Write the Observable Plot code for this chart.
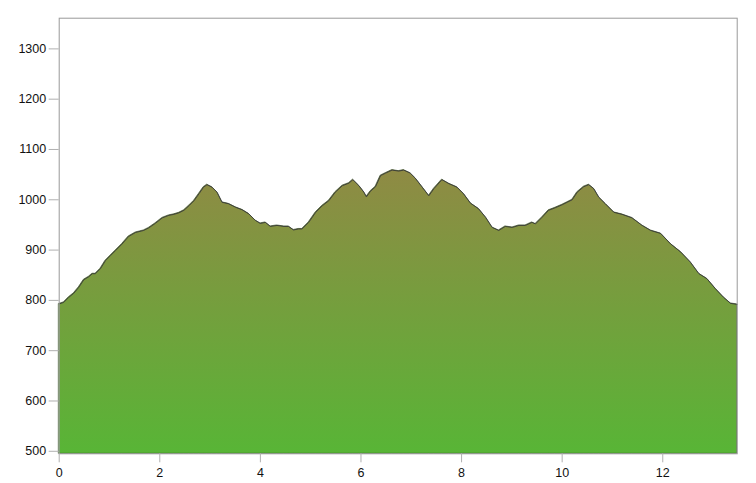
<!DOCTYPE html>
<html>
<head>
<meta charset="utf-8">
<script src="https://cdn.jsdelivr.net/npm/d3@7"></script>
<script src="https://cdn.jsdelivr.net/npm/@observablehq/plot@0.6"></script>
<style>
  html, body { margin: 0; padding: 0; background: #fff; }
  #chart { width: 756px; height: 483px; }
</style>
</head>
<body>
<div id="chart"></div>
<script>
// Distance (km) along the route
const distance = [0, 0.09, 0.19, 0.29, 0.39, 0.49, 0.59, 0.66, 0.72, 0.82, 0.92, 1.02, 1.12, 1.25, 1.38, 1.52, 1.68, 1.78, 1.91, 2.05, 2.18, 2.28, 2.38, 2.48, 2.58, 2.68, 2.78, 2.87, 2.94, 3.04, 3.14, 3.24, 3.37, 3.51, 3.64, 3.77, 3.90, 4.00, 4.10, 4.20, 4.33, 4.47, 4.56, 4.66, 4.76, 4.83, 4.96, 5.10, 5.23, 5.36, 5.49, 5.63, 5.76, 5.84, 5.96, 6.06, 6.11, 6.19, 6.29, 6.39, 6.49, 6.62, 6.75, 6.85, 6.98, 7.08, 7.22, 7.35, 7.45, 7.61, 7.75, 7.91, 8.04, 8.18, 8.34, 8.48, 8.61, 8.74, 8.87, 9.01, 9.14, 9.27, 9.40, 9.47, 9.60, 9.73, 9.86, 10.00, 10.10, 10.20, 10.30, 10.43, 10.53, 10.63, 10.73, 10.86, 11.03, 11.19, 11.39, 11.59, 11.76, 11.96, 12.16, 12.36, 12.55, 12.72, 12.88, 13.05, 13.21, 13.35, 13.48];
// Elevation (m)
const elevation = [793, 796, 806, 814, 826, 841, 847, 853, 853, 863, 879, 889, 899, 912, 927, 935, 939, 944, 953, 964, 969, 971, 974, 979, 988, 998, 1012, 1025, 1030, 1025, 1015, 995, 992, 985, 980, 972, 959, 953, 955, 947, 949, 947, 947, 940, 942, 942, 955, 975, 988, 998, 1015, 1028, 1033, 1040, 1028, 1015, 1006, 1017, 1026, 1048, 1053, 1059, 1057, 1059, 1053, 1043, 1025, 1008, 1022, 1040, 1032, 1025, 1012, 993, 982, 965, 945, 939, 947, 945, 949, 949, 955, 952, 965, 979, 984, 990, 995, 1000, 1015, 1026, 1030, 1022, 1005, 992, 975, 971, 964, 949, 939, 933, 912, 896, 876, 853, 843, 823, 806, 794, 792];
const xTicks = [0, 2, 4, 6, 8, 10, 12];
const yTicks = [500, 600, 700, 800, 900, 1000, 1100, 1200, 1300];

const data = distance.map((d, i) => ({d, e: elevation[i]}));
const base = 495;

const chart = Plot.plot({
  width: 756,
  height: 483,
  marginLeft: 58.7,
  marginRight: 19.3,
  marginTop: 17.7,
  marginBottom: 29.7,
  style: {fontFamily: "'Liberation Sans', Arial, sans-serif", fontSize: "12.5px", color: "#222", background: "#fff"},
  x: {domain: [0, 13.48]},
  y: {domain: [base, 1361]},
  marks: [
    Plot.areaY(data, {x: "d", y1: base, y2: "e", fill: "url(#elevGrad)", stroke: "#2f4a1f", strokeWidth: 0.8, strokeOpacity: 0.8}),
    Plot.lineY(data, {x: "d", y: "e", stroke: "#3a3a3a", strokeWidth: 0.9}),
    Plot.frame({stroke: "#999", strokeWidth: 1}),
    Plot.axisY({ticks: yTicks, tickFormat: d => String(d), tickSize: 10, tickPadding: 3, stroke: "#b0b0b0", fill: "#111", label: null}),
    Plot.axisX({ticks: xTicks, tickFormat: d => String(d), tickSize: 9, tickPadding: 5, stroke: "#b0b0b0", fill: "#111", label: null})
  ]
});

const svg = d3.select(chart);
const defs = svg.insert("defs", ":first-child");
const grad = defs.append("linearGradient")
  .attr("id", "elevGrad")
  .attr("x1", 0).attr("y1", 0).attr("x2", 0).attr("y2", 1);
grad.append("stop").attr("offset", "0%").attr("stop-color", "#8f8a44");
grad.append("stop").attr("offset", "100%").attr("stop-color", "#58b536");

document.getElementById("chart").appendChild(chart);
</script>
</body>
</html>
